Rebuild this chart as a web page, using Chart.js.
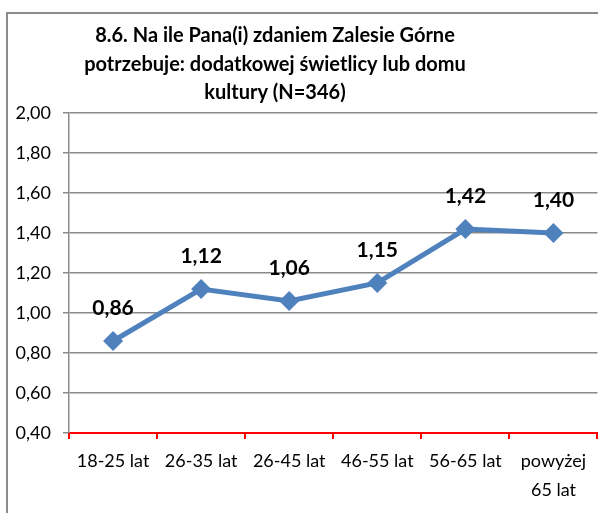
<!DOCTYPE html>
<html>
<head>
<meta charset="utf-8">
<script src="https://cdn.jsdelivr.net/npm/chart.js@4/dist/chart.umd.min.js"></script>
<style>
  html, body { margin: 0; padding: 0; background: #fff; overflow: hidden; }
  #frame { position: absolute; left: 6px; top: 12px; width: 700px; height: 600px; border: 2px solid #8c8c8c; }
  #wrap { position: absolute; left: 0; top: 0; width: 598px; height: 513px; }
</style>
</head>
<body>
<div id="frame"></div>
<div id="wrap"><canvas id="chart" width="598" height="513"></canvas></div>
<script>
// dane z wykresu
const titleLines = [
  '8.6. Na ile Pana(i) zdaniem Zalesie Górne',
  'potrzebuje: dodatkowej świetlicy lub domu',
  'kultury (N=346)'
];
const categories = [['18-25 lat'], ['26-35 lat'], ['26-45 lat'], ['46-55 lat'], ['56-65 lat'], ['powyżej', '65 lat']];
const values = [0.86, 1.12, 1.06, 1.15, 1.42, 1.40];
const yMin = 0.4;
const yMax = 2.0;
const yStep = 0.2;

const blue = '#4f81bd';
const fmt = v => Number(v).toFixed(2).replace('.', ',');

// tytul rysowany recznie (wysrodkowany jak w oryginale)
const titlePlugin = {
  id: 'titlePlugin',
  afterDraw(chart) {
    const ctx = chart.ctx;
    ctx.save();
    ctx.font = 'bold 20px Lato';
    ctx.fillStyle = '#000';
    ctx.textAlign = 'center';
    ctx.textBaseline = 'middle';
    titleLines.forEach((t, i) => ctx.fillText(t, 275, 36 + i * 28.5));
    ctx.restore();
  }
};

// etykiety wartosci nad punktami
const labelPlugin = {
  id: 'labelPlugin',
  afterDatasetsDraw(chart) {
    const ctx = chart.ctx;
    const meta = chart.getDatasetMeta(0);
    ctx.save();
    ctx.font = 'bold 21px Lato';
    ctx.fillStyle = '#000';
    ctx.textAlign = 'center';
    ctx.textBaseline = 'middle';
    meta.data.forEach((pt, i) => {
      ctx.fillText(fmt(values[i]), pt.x, pt.y - 33);
    });
    ctx.restore();
  }
};

const ctx = document.getElementById('chart').getContext('2d');
const myChart = new Chart(ctx, {
  type: 'line',
  data: {
    labels: categories,
    datasets: [{
      data: values,
      borderColor: blue,
      backgroundColor: blue,
      borderWidth: 5,
      pointStyle: 'rectRot',
      pointRadius: 10,
      pointHoverRadius: 10,
      pointBackgroundColor: blue,
      pointBorderColor: blue,
      pointBorderWidth: 0,
      tension: 0
    }]
  },
  options: {
    responsive: false,
    animation: false,
    devicePixelRatio: 1,
    layout: { autoPadding: false, padding: { top: 113, right: 0.5, left: 0, bottom: 0 } },
    plugins: {
      legend: { display: false },
      title: { display: false },
      tooltip: { enabled: false }
    },
    scales: {
      x: {
        type: 'category',
        offset: true,
        grid: { offset: true, drawOnChartArea: false, color: '#ff0000', tickLength: 6, lineWidth: 2 },
        border: { color: '#ff0000', width: 2 },
        ticks: { color: '#000', font: { family: 'Lato', size: 18, lineHeight: 1.6 }, padding: 8, maxRotation: 0, autoSkip: false },
        afterFit: s => { s.height = 80; s.paddingLeft = 0; s.paddingRight = 0; }
      },
      y: {
        min: yMin,
        max: yMax,
        ticks: { stepSize: yStep, color: '#000', font: { family: 'Lato', size: 18 }, padding: 12, callback: v => fmt(v) },
        grid: { color: '#8a8a8a', tickLength: 6, lineWidth: 1.5 },
        border: { color: '#8a8a8a', width: 1.5 },
        afterFit: s => { s.width = 69; }
      }
    }
  },
  plugins: [titlePlugin, labelPlugin]
});
</script>
</body>
</html>
